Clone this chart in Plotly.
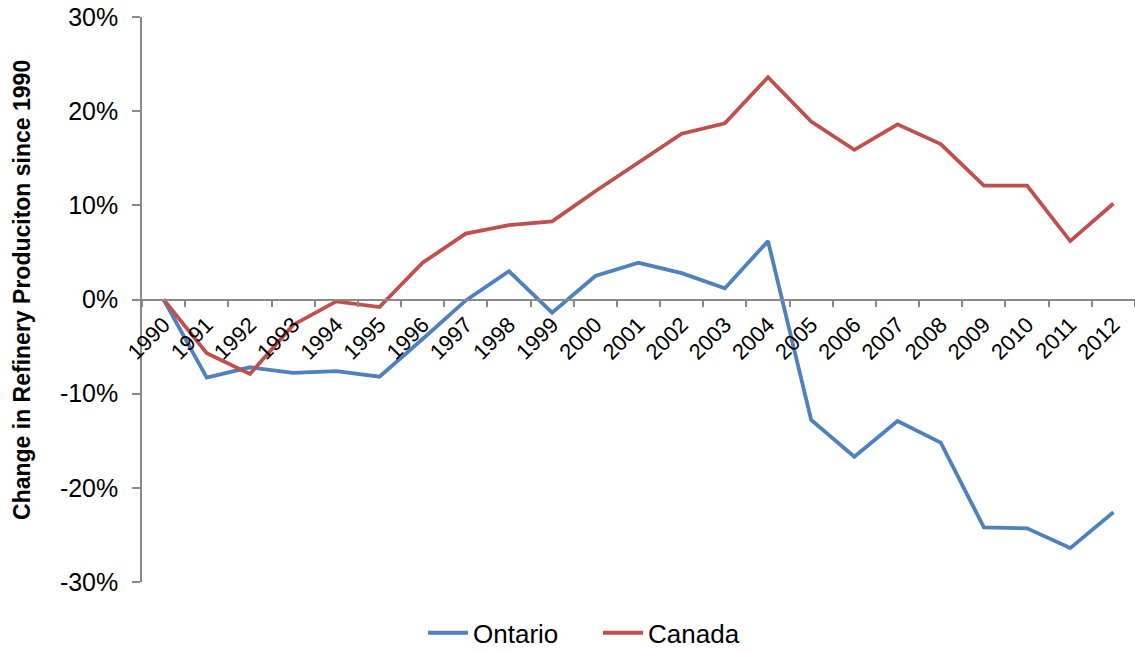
import plotly.graph_objects as go

years = [str(y) for y in range(1990, 2013)]
ontario = [0.0, -8.3, -7.2, -7.8, -7.6, -8.2, -4.2, -0.1, 3.0, -1.4, 2.5, 3.9, 2.8, 1.2, 6.2,
           -12.8, -16.7, -12.9, -15.2, -24.2, -24.3, -26.4, -22.6]
canada = [0.0, -5.7, -7.9, -2.7, -0.2, -0.8, 3.9, 7.0, 7.9, 8.3, 11.5, 14.5, 17.6, 18.7, 23.6,
          18.9, 15.9, 18.6, 16.5, 12.1, 12.1, 6.2, 10.2]
ontario = [v / 100 for v in ontario]
canada = [v / 100 for v in canada]
y_ticks = [-0.3, -0.2, -0.1, 0.0, 0.1, 0.2, 0.3]
y_tick_text = ["-30%", "-20%", "-10%", "0%", "10%", "20%", "30%"]
y_title = "Change in Refinery Produciton since 1990"

FONT = "Liberation Sans, Arial, sans-serif"
AXIS_COLOR = "#898989"

fig = go.Figure()
fig.add_trace(go.Scatter(x=years, y=ontario, mode="lines", name="Ontario",
                         line=dict(color="#4F81BD", width=3.8)))
fig.add_trace(go.Scatter(x=years, y=canada, mode="lines", name="Canada",
                         line=dict(color="#C0504D", width=3.8)))

fig.update_layout(
    width=1135, height=652,
    margin=dict(l=142, r=0, t=17, b=70, autoexpand=False),
    paper_bgcolor="white", plot_bgcolor="white",
    font=dict(family=FONT, color="black", size=22),
    showlegend=True,
    legend=dict(orientation="h", x=0.283, xanchor="left", y=-0.09, yanchor="middle",
                font=dict(size=26), itemwidth=40, entrywidth=120, traceorder="normal"),
    xaxis=dict(
        type="category", range=[-0.5, 22.5], automargin=False,
        anchor="free", position=0.5,
        showline=True, linecolor=AXIS_COLOR, linewidth=1.5,
        ticks="outside", tickson="boundaries", ticklen=7, tickcolor=AXIS_COLOR, tickwidth=1.5,
        tickangle=-45, tickfont=dict(size=22), ticklabelstandoff=3,
        showgrid=False, zeroline=False,
    ),
    yaxis=dict(
        range=[-0.3, 0.3], tickvals=y_ticks, ticktext=y_tick_text, automargin=False,
        showline=True, linecolor=AXIS_COLOR, linewidth=1.5,
        ticks="outside", ticklen=8, tickcolor=AXIS_COLOR, tickwidth=1.5,
        tickfont=dict(size=25), ticklabelstandoff=9, showgrid=False, zeroline=False,
    ),
    annotations=[dict(
        text="<b>" + y_title + "</b>", textangle=-90, showarrow=False,
        xref="paper", yref="paper", x=-0.1208, y=0.517, xanchor="center", yanchor="middle",
        font=dict(size=23, family=FONT, color="black"),
    )],
)

fig.write_html(
    "out.html",
    config={"displayModeBar": False},
    post_script="document.body.style.margin='0';document.body.style.overflow='hidden';",
)
